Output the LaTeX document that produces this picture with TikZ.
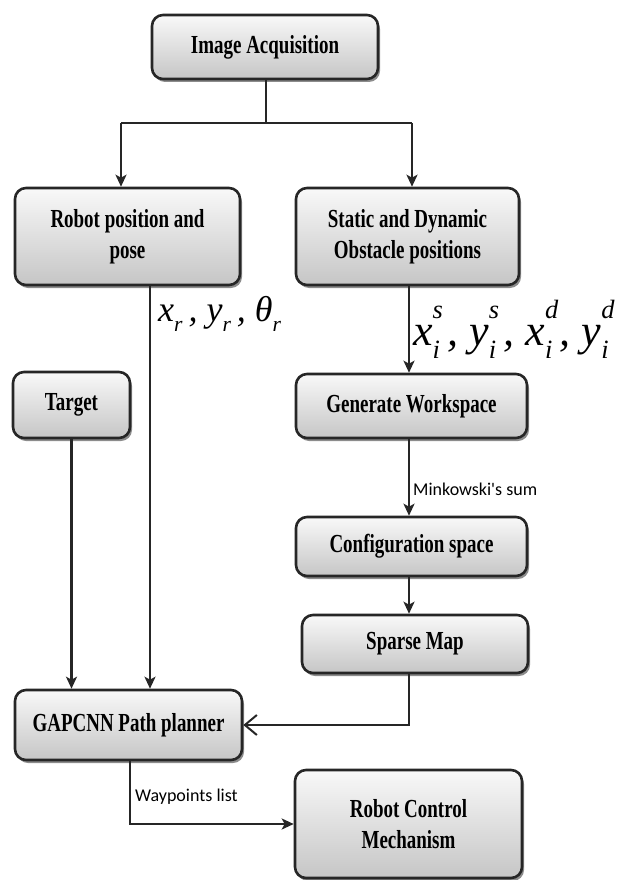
\documentclass[tikz,border=0pt]{standalone}
\usepackage{fontspec}
\usepackage{graphicx}
\usetikzlibrary{arrows.meta,shadows}
\newfontfamily\boxfont[FakeStretch=0.73]{Liberation Serif}
\newfontfamily\notefont{Carlito}
\newfontfamily\varfont{Liberation Serif}

% italic variable with a superscript (#2) and a subscript (#3)
\newcommand\symvar[3]{#1\rlap{\raisebox{0.62em}{\scalebox{0.6}{#2}}}\raisebox{-0.28em}{\scalebox{0.6}{#3}}}

\tikzset{
  stage/.style={draw=black!85, line width=2.6pt, rounded corners=11pt,
    top color=gray!5, bottom color=gray!45,
    drop shadow={shadow xshift=2pt, shadow yshift=-3pt, opacity=0.45, fill=black},
    font=\boxfont\bfseries\fontsize{26}{31}\selectfont, align=center, inner sep=0pt},
  link/.style={draw=black!85, line width=2.2pt},
  flow/.style={link, -{Stealth[length=12pt,width=11pt,inset=3pt]}},
  backflow/.style={link, -{Straight Barb[length=12pt,width=20pt,line width=2pt]}},
  note/.style={font=\notefont\fontsize{18}{20}\selectfont, inner sep=0pt},
  symb/.style={inner sep=0pt, font=\varfont\itshape}
}

\begin{document}
\begin{tikzpicture}[x=1pt,y=-1pt]
\useasboundingbox (0,0) rectangle (621,880);

% process stages
\node[stage, minimum width=226pt, minimum height=64pt] (acq) at (265,47) {Image Acquisition};
\node[stage, minimum width=225pt, minimum height=97pt] (robot) at (127.5,236.5) {Robot position and\\pose};
\node[stage, minimum width=223pt, minimum height=97pt] (static) at (407.5,236.5) {Static and Dynamic\\Obstacle positions};
\node[stage, minimum width=117pt, minimum height=66pt] (target) at (71.5,405) {Target};
\node[stage, minimum width=231pt, minimum height=64pt] (gw) at (411.5,406) {Generate Workspace};
\node[stage, minimum width=231pt, minimum height=59pt] (cs) at (411.5,546.5) {Configuration space};
\node[stage, minimum width=226pt, minimum height=58pt] (sparse) at (415,644) {Sparse Map};
\node[stage, minimum width=227pt, minimum height=70pt] (gap) at (128.5,725) {GAPCNN Path planner};
\node[stage, minimum width=227pt, minimum height=108pt] (rcm) at (408.5,824) {Robot Control\\Mechanism};

% routing columns
\coordinate (split) at (266,123);
\coordinate (cL) at (121,123);
\coordinate (cR) at (412,123);
\coordinate (pose) at (150,0);
\coordinate (chain) at (409,0);
\coordinate (wp) at (130,0);

% fan-out from acquisition
\draw[link] (acq.south -| split) -- (split);
\draw[link] (cL) -- (cR);
\draw[flow] (cL) -- (robot.north -| cL);
\draw[flow] (cR) -- (static.north -| cR);

% inputs of the planner
\draw[flow] (robot.south -| pose) -- (gap.north -| pose);
\draw[flow] (target.south) -- (target.south |- gap.north);

% obstacle chain
\draw[flow] (static.south -| chain) -- (gw.north -| chain);
\draw[flow] (gw.south -| chain) -- (cs.north -| chain);
\draw[flow] (cs.south -| chain) -- (sparse.north -| chain);
\draw[backflow] (sparse.south -| chain) |- (gap.east);

% planner output
\draw[flow] (gap.south -| wp) |- (rcm.west);

% labels
\node[symb, anchor=north west] (poseval) at (158,296) {\fontsize{36}{36}\selectfont \symvar{x}{}{r}\,, \symvar{y}{}{r}\,, \symvar{θ}{}{r}};
\node[symb, anchor=north west] (obsval) at (413,300) {\fontsize{44}{44}\selectfont \symvar{x}{s}{i}\,, \symvar{y}{s}{i}\,, \symvar{x}{d}{i}\,, \symvar{y}{d}{i}};
\node[note, anchor=west] (mink) at (413,489) {Minkowski's sum};
\node[note, anchor=west] (wplist) at (135,797) {Waypoints list};
\end{tikzpicture}
\end{document}
